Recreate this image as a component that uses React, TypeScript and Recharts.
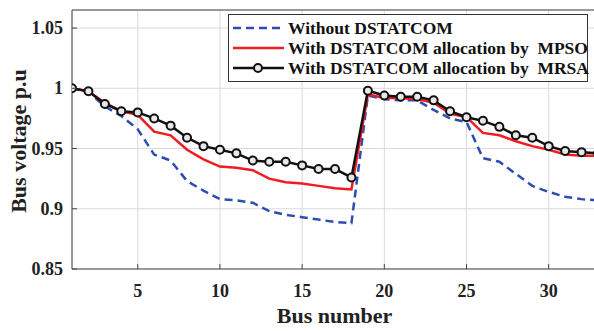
import React from 'react';
import {
  LineChart,
  Line,
  XAxis,
  YAxis,
  CartesianGrid,
  Legend,
  ReferenceLine,
} from 'recharts';

const BUSES = [
  1, 2, 3, 4, 5, 6, 7, 8, 9, 10, 11, 12, 13, 14, 15, 16, 17, 18, 19, 20, 21, 22,
  23, 24, 25, 26, 27, 28, 29, 30, 31, 32, 33,
];

const WITHOUT = [
  1.0, 0.997, 0.985, 0.977, 0.966, 0.945, 0.94, 0.923, 0.915, 0.908, 0.907,
  0.905, 0.898, 0.895, 0.893, 0.891, 0.889, 0.888, 0.994, 0.991, 0.99, 0.99,
  0.982, 0.975, 0.972, 0.942, 0.939, 0.929, 0.919, 0.914, 0.91, 0.908, 0.907,
];

const MPSO = [
  1.0, 0.9975, 0.988, 0.981, 0.978, 0.964, 0.961, 0.949, 0.941, 0.935, 0.934,
  0.932, 0.925, 0.922, 0.921, 0.919, 0.917, 0.916, 0.995, 0.992, 0.992, 0.991,
  0.988, 0.979, 0.976, 0.963, 0.961, 0.956, 0.952, 0.949, 0.945, 0.944, 0.944,
];

const MRSA = [
  1.0, 0.9975, 0.987, 0.981, 0.98, 0.975, 0.969, 0.959, 0.952, 0.949, 0.946,
  0.94, 0.939, 0.939, 0.936, 0.933, 0.933, 0.926, 0.998, 0.994, 0.993, 0.993,
  0.99, 0.981, 0.976, 0.973, 0.968, 0.961, 0.959, 0.952, 0.948, 0.947, 0.946,
];

const X_TICKS = [5, 10, 15, 20, 25, 30];
const Y_TICKS = [0.85, 0.9, 0.95, 1, 1.05];
const Y_TICK_LABELS = ['0.85', '0.9', '0.95', '1', '1.05'];
const Y_MAX = 1.065;

const LEGEND_LABELS = [
  'Without DSTATCOM',
  'With DSTATCOM allocation by  MPSO',
  'With DSTATCOM allocation by  MRSA',
];

const FONT = '"Liberation Serif", "Times New Roman", serif';
const BLUE = '#2d4db3';
const RED = '#f01c22';
const BLACK = '#111111';
const AXIS = '#444444';
const GRID = '#dadada';

const data = BUSES.map((bus, i) => ({
  bus,
  without: WITHOUT[i],
  mpso: MPSO[i],
  mrsa: MRSA[i],
}));

const XTick = ({ x, y, payload }: any) => (
  <g>
    <line x1={x} x2={x} y1={y} y2={y - 5} stroke={AXIS} strokeWidth={1} />
    <text x={x} y={y + 28} textAnchor="middle" fontSize={18} fontWeight="bold" fontFamily={FONT} fill="#222">
      {payload.value}
    </text>
  </g>
);

const YTick = ({ x, y, payload }: any) => {
  const idx = Y_TICKS.indexOf(payload.value);
  return (
    <g>
      <line x1={x} x2={x + 5} y1={y} y2={y} stroke={AXIS} strokeWidth={1} />
      <text x={x - 9} y={y + 6} textAnchor="end" fontSize={18} fontWeight="bold" fontFamily={FONT} fill="#222">
        {idx >= 0 ? Y_TICK_LABELS[idx] : payload.value}
      </text>
    </g>
  );
};

const renderLegend = () => {
  const samples = [
    <line key="a" x1={4} x2={55} y1={10} y2={10} stroke={BLUE} strokeWidth={2.5} strokeDasharray="8 5" />,
    <line key="b" x1={4} x2={55} y1={10} y2={10} stroke={RED} strokeWidth={2.5} />,
    <g key="c">
      <line x1={4} x2={55} y1={10} y2={10} stroke={BLACK} strokeWidth={2.5} />
      <circle cx={29} cy={10} r={4} stroke={BLACK} strokeWidth={2} fill="#e8e8e8" />
    </g>,
  ];
  return (
    <div
      style={{
        width: 360,
        height: 68,
        boxSizing: 'border-box',
        border: '1.5px solid #333',
        background: '#fff',
        paddingTop: 3,
        fontFamily: FONT,
        fontWeight: 'bold',
        fontSize: 17.5,
        color: '#111',
      }}
    >
      {LEGEND_LABELS.map((label, i) => (
        <div key={label} style={{ height: 20, display: 'flex', alignItems: 'center' }}>
          <svg width={59} height={20} style={{ flex: 'none' }}>
            {samples[i]}
          </svg>
          <span style={{ whiteSpace: 'pre', lineHeight: '20px' }}>{label}</span>
        </div>
      ))}
    </div>
  );
};

export default function App() {
  return (
    <div style={{ width: 594, height: 331, overflow: 'hidden', position: 'relative', background: '#fff' }}>
      <style>{`body{margin:0}`}</style>
      <LineChart width={600} height={331} data={data} margin={{ top: 10, right: 2, left: 0, bottom: 0 }}>
        <CartesianGrid stroke={GRID} strokeWidth={1} />
        <XAxis
          dataKey="bus"
          type="number"
          domain={[1, 33]}
          ticks={X_TICKS}
          allowDataOverflow
          height={62}
          tickSize={0}
          tickMargin={0}
          tickLine={false}
          stroke={AXIS}
          tick={<XTick />}
          label={{
            content: () => (
              <text x={334.5} y={323} textAnchor="middle" fontSize={22} fontWeight="bold" fontFamily={FONT} fill="#222">
                Bus number
              </text>
            ),
          }}
        />
        <YAxis
          type="number"
          domain={[0.85, Y_MAX]}
          ticks={Y_TICKS}
          allowDataOverflow
          width={72}
          tickSize={0}
          tickMargin={0}
          tickLine={false}
          stroke={AXIS}
          tick={<YTick />}
          label={{
            content: () => (
              <text
                transform="translate(26,141) rotate(-90)"
                textAnchor="middle"
                fontSize={22}
                fontWeight="bold"
                fontFamily={FONT}
                fill="#222"
              >
                Bus voltage p.u
              </text>
            ),
          }}
        />
        <ReferenceLine y={Y_MAX} stroke={AXIS} strokeWidth={1} />
        <Line
          type="linear"
          dataKey="without"
          stroke={BLUE}
          strokeWidth={2.5}
          strokeDasharray="8 5"
          dot={false}
          isAnimationActive={false}
        />
        <Line type="linear" dataKey="mpso" stroke={RED} strokeWidth={2.5} dot={false} isAnimationActive={false} />
        <Line
          type="linear"
          dataKey="mrsa"
          stroke={BLACK}
          strokeWidth={2.5}
          dot={{ r: 4, stroke: BLACK, strokeWidth: 2, fill: '#e8e8e8' }}
          isAnimationActive={false}
        />
        <Legend
          layout="horizontal"
          verticalAlign="middle"
          content={renderLegend}
          wrapperStyle={{ position: 'absolute', left: 228, top: 14, width: 360, height: 68 }}
        />
      </LineChart>
    </div>
  );
}
